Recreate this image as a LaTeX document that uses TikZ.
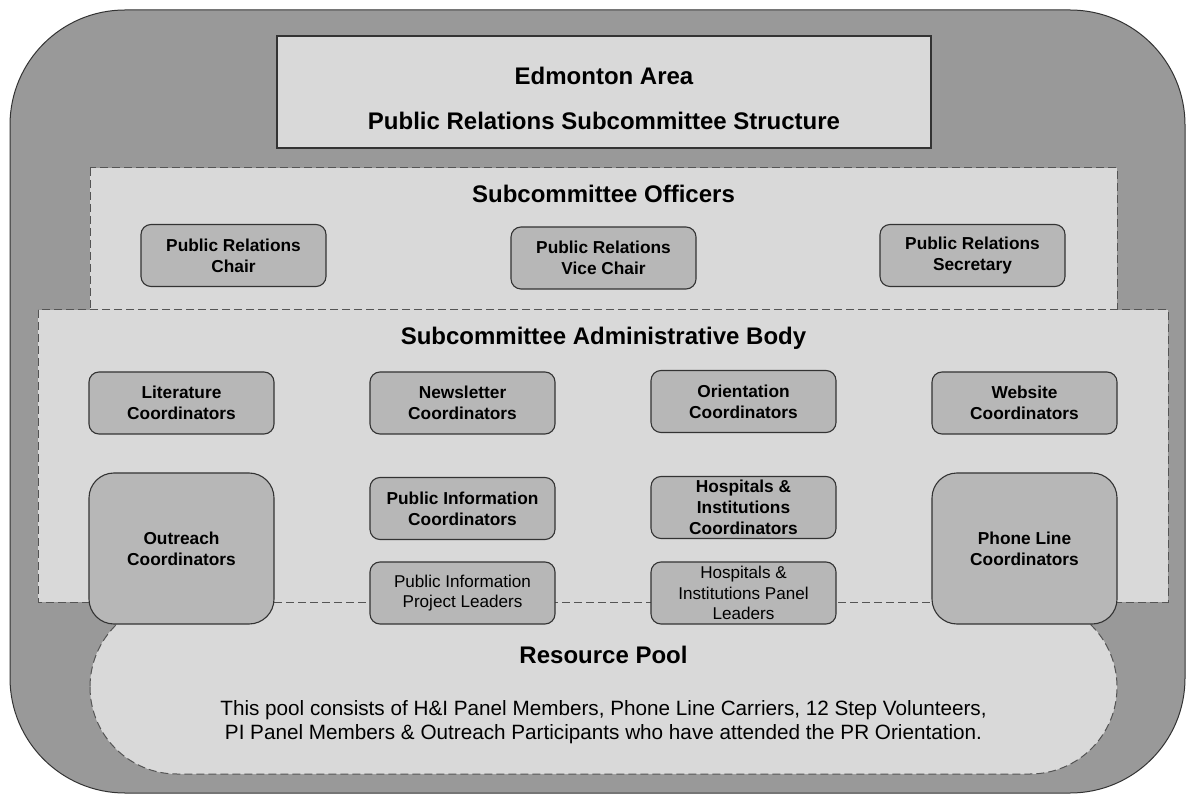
\documentclass[tikz,border=0pt]{standalone}
\usepackage{fontspec}
\setmainfont{Liberation Sans}

\newlength{\du}
\setlength{\du}{0.5pt}

\definecolor{outerfill}{rgb}{0.600000, 0.600000, 0.600000}
\definecolor{panelfill}{rgb}{0.850980, 0.850980, 0.850980}
\definecolor{boxfill}{rgb}{0.717647, 0.717647, 0.717647}
\definecolor{boxline}{rgb}{0.200000, 0.200000, 0.200000}
\definecolor{dashline}{rgb}{0.330000, 0.330000, 0.330000}

\tikzset{
  rolebox/.style={draw=boxline, fill=boxfill, line width=0.55pt, rounded corners=10\du,
    minimum width=185\du, minimum height=62\du, inner sep=0pt, align=center,
    font=\fontsize{8.65}{10.35}\selectfont\bfseries},
  leaderbox/.style={rolebox, font=\fontsize{8.55}{10.35}\selectfont},
  tallbox/.style={rolebox, minimum height=151\du, rounded corners=25\du},
  heading/.style={inner sep=0pt, anchor=base, font=\fontsize{12}{14.4}\selectfont\bfseries},
  dashedpanel/.style={draw=dashline, fill=panelfill, line width=0.5pt, dash pattern=on 8\du off 4\du},
}

\begin{document}
\begin{tikzpicture}
\pgftransformxscale{1.000000}
\pgftransformyscale{-1.000000}
\useasboundingbox (0\du,0\du) rectangle (1186\du,795\du);
% background
\draw[fill=outerfill, draw=boxline, line width=0.5pt, rounded corners=115\du] (10\du,10\du) rectangle (1185\du,793\du);
\draw[fill=panelfill, draw=boxline, line width=0.55pt] (277\du,36\du) rectangle (931\du,148\du);
\node[heading] (area) at (604\du,84.5\du) {Edmonton Area};
\node[heading] (title) at (604\du,130\du) {Public Relations Subcommittee Structure};
% officers
\draw[dashedpanel] (90\du,168\du) rectangle (1117\du,320\du);
\node[heading] (officers) at (603.5\du,203\du) {Subcommittee Officers};
\node[rolebox] (chair) at (233.5\du,255.5\du) {Public Relations\\Chair};
\node[rolebox] (vicechair) at (603.5\du,258\du) {Public Relations\\Vice Chair};
\node[rolebox] (secretary) at (972.5\du,255.5\du) {Public Relations\\Secretary};
% pool
\draw[dashedpanel, rounded corners=87\du] (90\du,600\du) rectangle (1117\du,774\du);
\node[heading] (pool) at (603.5\du,663\du) {Resource Pool};
\node[align=center, inner sep=0pt, font=\fontsize{10.35}{12}\selectfont] (pooltext) at (603.5\du,722\du)
  {This pool consists of H\&I Panel Members, Phone Line Carriers, 12 Step Volunteers,\\
   PI Panel Members \& Outreach Participants who have attended the PR Orientation.};
% admin body
\draw[dashedpanel] (38\du,310\du) rectangle (1168\du,602\du);
\node[heading] (admin) at (603.5\du,345\du) {Subcommittee Administrative Body};
\node[rolebox] (literature) at (181.5\du,403\du) {Literature\\Coordinators};
\node[rolebox] (newsletter) at (462.5\du,403\du) {Newsletter\\Coordinators};
\node[rolebox] (orientation) at (743.5\du,401.5\du) {Orientation\\Coordinators};
\node[rolebox] (website) at (1024.5\du,403\du) {Website\\Coordinators};
\node[tallbox] (outreach) at (181.5\du,548.5\du) {Outreach\\Coordinators};
\node[rolebox] (picoord) at (462.5\du,508.5\du) {Public Information\\Coordinators};
\node[rolebox] (hicoord) at (743.5\du,507.5\du) {Hospitals \&\\Institutions\\Coordinators};
\node[leaderbox] (pileaders) at (462.5\du,593\du) {Public Information\\Project Leaders};
\node[leaderbox] (hileaders) at (743.5\du,593\du) {Hospitals \&\\Institutions Panel\\Leaders};
\node[tallbox] (phoneline) at (1024.5\du,548.5\du) {Phone Line\\Coordinators};
\end{tikzpicture}
\end{document}
